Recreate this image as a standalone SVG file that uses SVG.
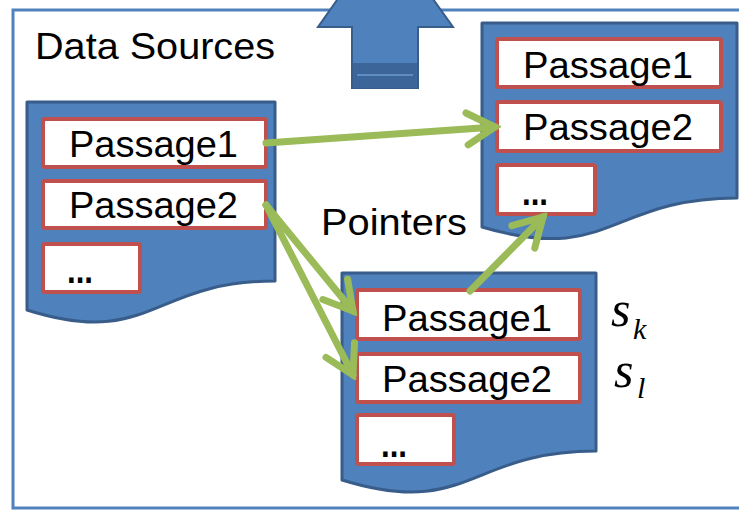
<svg xmlns="http://www.w3.org/2000/svg" width="739" height="512" viewBox="0 0 739 512">
<style>
.doc{fill:#4F81BD;stroke:#385D8A;stroke-width:3;stroke-linejoin:round}
.box{fill:#FFFFFF;stroke:#C0504D;stroke-width:4}
.t{font-family:"Liberation Sans","Open Sans",sans-serif;font-size:36px;fill:#000}
.m{font-family:"Liberation Serif","Times New Roman",serif;font-style:italic;fill:#000}
.conn{fill:none;stroke:#9BBB59;stroke-width:7;stroke-linecap:round}
</style>
<defs>
<marker id="ah" markerUnits="userSpaceOnUse" viewBox="-34 -20 40 40" refX="0" refY="0" markerWidth="40" markerHeight="40" orient="auto">
<path d="M-28,-16 L0,0 L-28,16" fill="none" stroke="#9BBB59" stroke-width="7" stroke-linecap="round" stroke-linejoin="miter"/>
</marker>
</defs>
<rect width="739" height="512" fill="#FFFFFF"/>
<rect id="frame" x="13" y="10" width="740" height="498" fill="none" stroke="#4F81BD" stroke-width="3"/>
<g id="up-arrow">
<polygon points="385,-68 318,27 352,27 352,88 418,88 418,27 453,27" fill="#4F81BD" stroke="#385D8A" stroke-width="2" stroke-linejoin="miter"/>
<rect x="353" y="63" width="64" height="25" fill="#3C6699"/>
<line x1="357" y1="75" x2="413" y2="75" stroke="#5E8DC4" stroke-width="2"/>
</g>
<text class="t" x="35" y="59" textLength="240" lengthAdjust="spacingAndGlyphs">Data Sources</text>
<g id="doc-sources">
<path class="doc" d="M27,102 H275 V281 C151,281 151,349 27,310 Z"/>
<rect class="box" x="43" y="119" width="223" height="48" rx="2"/>
<rect class="box" x="43" y="181" width="223" height="47" rx="2"/>
<rect class="box" x="43" y="244" width="97" height="48" rx="2"/>
<text class="t" x="69" y="157" textLength="169" lengthAdjust="spacingAndGlyphs">Passage1</text>
<text class="t" x="69" y="218" textLength="169" lengthAdjust="spacingAndGlyphs">Passage2</text>
<text class="t" x="67" y="283" textLength="26" lengthAdjust="spacingAndGlyphs" font-weight="bold">...</text>
</g>
<g id="doc-target">
<path class="doc" d="M482,23 H737 V198 C610,198 610,265 482,227 Z"/>
<rect class="box" x="497" y="39" width="224" height="48" rx="2"/>
<rect class="box" x="497" y="102" width="224" height="49" rx="2"/>
<rect class="box" x="497" y="165" width="98" height="49" rx="2"/>
<text class="t" x="523" y="78" textLength="170" lengthAdjust="spacingAndGlyphs">Passage1</text>
<text class="t" x="523" y="140" textLength="170" lengthAdjust="spacingAndGlyphs">Passage2</text>
<text class="t" x="522" y="205" textLength="26" lengthAdjust="spacingAndGlyphs" font-weight="bold">...</text>
</g>
<text class="t" x="321" y="235" textLength="146" lengthAdjust="spacingAndGlyphs">Pointers</text>
<g id="doc-pointers">
<path class="doc" d="M342,273 H596 V451 C469,451 469,519 342,480 Z"/>
<rect class="box" x="357" y="290" width="223" height="49" rx="2"/>
<rect class="box" x="357" y="354" width="223" height="48" rx="2"/>
<rect class="box" x="357" y="415" width="97" height="49" rx="2"/>
<text class="t" x="382" y="331" textLength="170" lengthAdjust="spacingAndGlyphs">Passage1</text>
<text class="t" x="382" y="392" textLength="170" lengthAdjust="spacingAndGlyphs">Passage2</text>
<text class="t" x="381" y="457" textLength="26" lengthAdjust="spacingAndGlyphs" font-weight="bold">...</text>
</g>
<g id="labels">
<text class="m" x="611" y="326" font-size="50">s</text>
<text class="m" x="633" y="339" font-size="30">k</text>
<text class="m" x="614" y="387" font-size="50">s</text>
<text class="m" x="637" y="398" font-size="30">l</text>
</g>
<g id="connectors">
<line class="conn" x1="266" y1="143" x2="495" y2="127" marker-end="url(#ah)"/>
<line class="conn" x1="266" y1="205" x2="353" y2="311" marker-end="url(#ah)"/>
<line class="conn" x1="266" y1="205" x2="353" y2="375" marker-end="url(#ah)"/>
<line class="conn" x1="470" y1="291" x2="543" y2="217" marker-end="url(#ah)"/>
</g>
</svg>
